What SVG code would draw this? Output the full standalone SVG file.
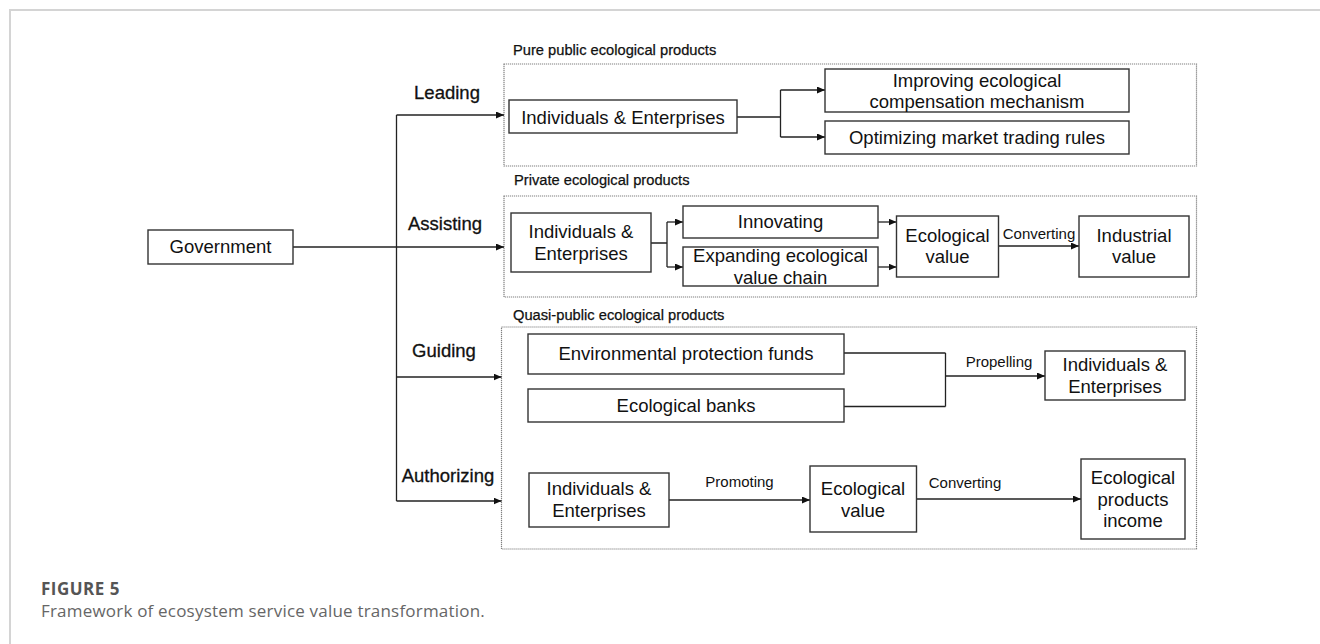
<svg xmlns="http://www.w3.org/2000/svg" width="1320" height="644" viewBox="0 0 1320 644">
<defs>
<marker id="ah" markerWidth="8" markerHeight="7" refX="8" refY="3.5" orient="auto" markerUnits="userSpaceOnUse">
<path d="M0,0 L8,3.5 L0,7 Z" fill="#111"/>
</marker>
<style>
.box{fill:#fff;stroke:#333;stroke-width:1.4}
.grp{fill:none;stroke:#808080;stroke-width:1.2;stroke-dasharray:1.2 0.8}
.t{font-family:"Liberation Sans",Arial,sans-serif;font-size:18.5px;fill:#111;text-anchor:middle}
.lab{font-family:"Liberation Sans",Arial,sans-serif;font-size:18.5px;fill:#111;stroke:#111;stroke-width:0.3;text-anchor:middle}
.gl{font-family:"Liberation Sans",Arial,sans-serif;font-size:14.7px;fill:#111;stroke:#111;stroke-width:0.25}
.el{font-family:"Liberation Sans",Arial,sans-serif;font-size:15px;fill:#111;text-anchor:middle}
.ln{fill:none;stroke:#222;stroke-width:1.3}
.ar{fill:none;stroke:#222;stroke-width:1.3;marker-end:url(#ah)}
.cap1{font-family:"Open Sans","Liberation Sans",sans-serif;font-size:17px;font-weight:bold;fill:#555;letter-spacing:0.5px}
.cap2{font-family:"Open Sans","Liberation Sans",sans-serif;font-size:17px;fill:#666;letter-spacing:0.2px}
</style>
</defs>
<rect width="1320" height="644" fill="#fff"/>
<path d="M10,650 L10,10 L1330,10" fill="none" stroke="#d4d4d4" stroke-width="2"/>

<g id="groups">
<rect class="grp" x="504" y="64" width="692.5" height="102"/>
<text class="gl" x="513" y="55">Pure public ecological products</text>
<rect class="grp" x="504" y="196" width="692.5" height="101"/>
<text class="gl" x="514" y="185">Private ecological products</text>
<rect class="grp" x="501.5" y="327" width="695" height="222"/>
<text class="gl" x="513" y="320">Quasi-public ecological products</text>
</g>

<g id="connectors">
<path class="ln" d="M293,247 L396.5,247"/>
<path class="ln" d="M396.5,115 L396.5,501"/>
<path class="ar" d="M396.5,115 L504,115"/>
<path class="ar" d="M396.5,247 L504,247"/>
<path class="ar" d="M396.5,377 L501.5,377"/>
<path class="ar" d="M396.5,501 L501.5,501"/>
<text class="lab" x="447" y="99">Leading</text>
<text class="lab" x="445" y="230">Assisting</text>
<text class="lab" x="444" y="357">Guiding</text>
<text class="lab" x="448" y="482">Authorizing</text>
<path class="ln" d="M737,117 L780.5,117 M780.5,90 L780.5,137"/>
<path class="ar" d="M780.5,90 L825,90"/>
<path class="ar" d="M780.5,137 L825,137"/>
<path class="ln" d="M651,243 L667,243 M667,222 L667,267"/>
<path class="ar" d="M667,222 L683,222"/>
<path class="ar" d="M667,267 L683,267"/>
<path class="ar" d="M878,222 L896.5,222"/>
<path class="ar" d="M878,267 L896.5,267"/>
<path class="ar" d="M998.5,246 L1079,246"/>
<text class="el" x="1039" y="239">Converting</text>
<path class="ln" d="M844,353 L945.5,353 M844,406.5 L945.5,406.5 M945.5,353 L945.5,406.5"/>
<path class="ar" d="M945.5,376 L1045,376"/>
<text class="el" x="999" y="367">Propelling</text>
<path class="ar" d="M669,500 L810,500"/>
<text class="el" x="739.5" y="487">Promoting</text>
<path class="ar" d="M916.5,499 L1081,499"/>
<text class="el" x="965" y="488">Converting</text>
</g>

<g id="government">
<rect class="box" x="148" y="230" width="145" height="34"/>
<text class="t" x="220.5" y="253">Government</text>
</g>

<g id="lead-ie">
<rect class="box" x="509" y="100" width="228" height="33"/>
<text class="t" x="623" y="123.5">Individuals &amp; Enterprises</text>
</g>
<g id="improving">
<rect class="box" x="825" y="69" width="304" height="43"/>
<text class="t" x="977" y="87">Improving ecological</text>
<text class="t" x="977" y="107.5">compensation mechanism</text>
</g>
<g id="optimizing">
<rect class="box" x="825" y="121" width="304" height="33"/>
<text class="t" x="977" y="143.5">Optimizing market trading rules</text>
</g>

<g id="assist-ie">
<rect class="box" x="511" y="213" width="140" height="59"/>
<text class="t" x="581" y="238">Individuals &amp;</text>
<text class="t" x="581" y="260">Enterprises</text>
</g>
<g id="innovating">
<rect class="box" x="683" y="206" width="195" height="32"/>
<text class="t" x="780.5" y="228">Innovating</text>
</g>
<g id="expanding">
<rect class="box" x="683" y="247" width="195" height="39"/>
<text class="t" x="780.5" y="262">Expanding ecological</text>
<text class="t" x="780.5" y="283.5">value chain</text>
</g>
<g id="eco-value-1">
<rect class="box" x="896.5" y="216" width="102" height="61"/>
<text class="t" x="947.5" y="241.5">Ecological</text>
<text class="t" x="947.5" y="263">value</text>
</g>
<g id="industrial">
<rect class="box" x="1079" y="216" width="110" height="61"/>
<text class="t" x="1134" y="241.5">Industrial</text>
<text class="t" x="1134" y="263">value</text>
</g>

<g id="env-funds">
<rect class="box" x="528" y="334" width="316" height="40"/>
<text class="t" x="686" y="359.5">Environmental protection funds</text>
</g>
<g id="eco-banks">
<rect class="box" x="528" y="389" width="316" height="33"/>
<text class="t" x="686" y="412">Ecological banks</text>
</g>
<g id="guide-ie">
<rect class="box" x="1045" y="351" width="140" height="49"/>
<text class="t" x="1115" y="371">Individuals &amp;</text>
<text class="t" x="1115" y="392.5">Enterprises</text>
</g>

<g id="auth-ie">
<rect class="box" x="529" y="473" width="140" height="54"/>
<text class="t" x="599" y="495">Individuals &amp;</text>
<text class="t" x="599" y="517">Enterprises</text>
</g>
<g id="eco-value-2">
<rect class="box" x="810" y="466" width="106.5" height="66"/>
<text class="t" x="863" y="495">Ecological</text>
<text class="t" x="863" y="517">value</text>
</g>
<g id="income">
<rect class="box" x="1081" y="459" width="104" height="80"/>
<text class="t" x="1133" y="483.5">Ecological</text>
<text class="t" x="1133" y="505.5">products</text>
<text class="t" x="1133" y="527">income</text>
</g>

<g id="caption">
<text class="cap1" x="41" y="595">FIGURE 5</text>
<text class="cap2" x="41" y="617">Framework of ecosystem service value transformation.</text>
</g>
</svg>
